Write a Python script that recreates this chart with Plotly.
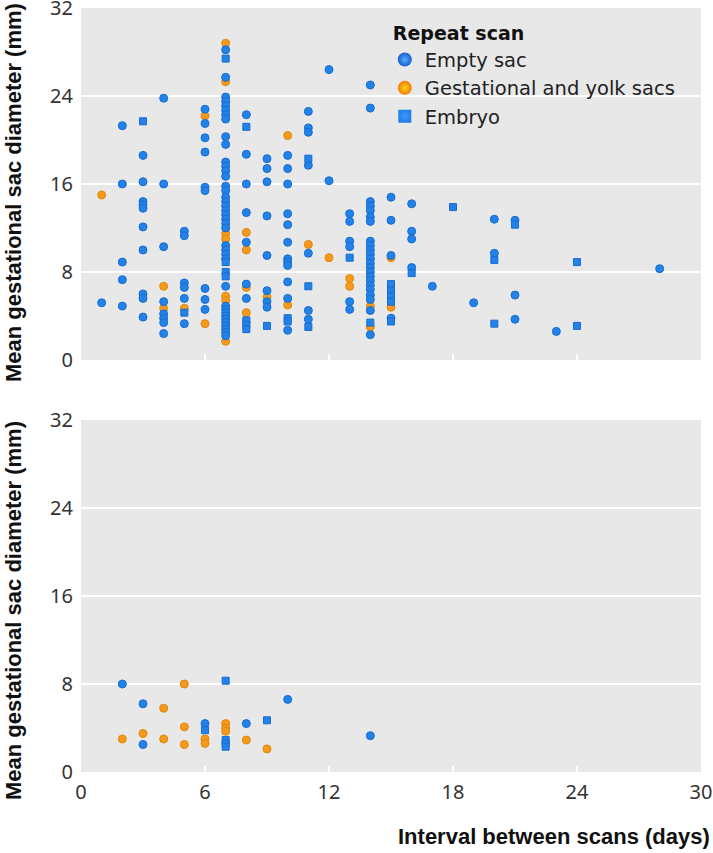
import plotly.graph_objects as go

# ---------------- data ----------------
# Top panel
top_empty_days = [1,
    2, 2, 2, 2, 2,
    3, 3, 3, 3, 3, 3, 3, 3, 3, 3,
    4, 4, 4, 4, 4, 4, 4, 4,
    5, 5, 5, 5, 5, 5,
    6, 6, 6, 6, 6, 6, 6, 6, 6,
    7, 7, 7, 7, 7, 7, 7, 7, 7, 7, 7, 7, 7, 7, 7, 7, 7, 7, 7, 7,
    7, 7, 7, 7, 7, 7, 7, 7, 7, 7, 7, 7, 7, 7, 7, 7, 7, 7, 7,
    8, 8, 8, 8, 8, 8, 8,
    9, 9, 9, 9, 9, 9, 9, 9,
    10, 10, 10, 10, 10, 10, 10, 10, 10, 10, 10, 10,
    11, 11, 11, 11, 11, 11, 11,
    12, 12,
    13, 13, 13, 13, 13, 13,
    14, 14, 14, 14, 14, 14, 14, 14, 14, 14, 14, 14, 14, 14, 14, 14, 14, 14, 14, 14, 14, 14, 14,
    15, 15, 15, 15,
    16, 16, 16, 16,
    17, 19, 20, 20, 21, 21, 21, 23, 28]
top_empty_mm = [5.2,
    21.3, 16.0, 8.9, 7.3, 4.9,
    18.6, 16.2, 14.4, 14.1, 13.8, 12.1, 10.0, 6.0, 5.6, 3.9,
    23.8, 16.0, 10.3, 5.3, 4.2, 3.8, 3.4, 2.4,
    11.7, 11.3, 7.0, 6.6, 5.6, 3.3,
    22.8, 21.5, 20.2, 18.9, 15.7, 15.4, 6.5, 5.5, 4.6,
    28.2, 25.7, 23.9, 23.5, 23.1, 22.7, 22.3, 21.9, 20.3, 19.6, 18.0, 17.6, 17.2, 16.7, 15.8, 15.4, 14.8, 14.4, 14.0, 13.6,
    13.2, 12.8, 12.4, 12.0, 10.4, 10.0, 9.6, 9.2, 6.7, 4.9, 4.6, 4.3, 4.0, 3.7, 3.4, 3.1, 2.8, 2.5, 2.2,
    22.3, 18.7, 16.0, 13.4, 10.7, 6.9, 5.6,
    18.3, 17.4, 16.2, 13.1, 9.5, 6.3, 5.3, 4.8,
    18.6, 17.4, 16.0, 13.3, 12.3, 10.7, 9.2, 8.9, 8.6, 7.1, 5.6, 2.7,
    22.6, 21.1, 20.7, 17.7, 9.7, 4.5, 3.7,
    26.4, 16.3,
    13.3, 12.6, 10.8, 10.3, 5.3, 4.6,
    25.0, 22.9, 14.4, 14.0, 13.6, 13.0, 12.6, 10.8, 10.4, 10.0, 9.6, 9.2, 8.8, 8.4, 8.0, 7.6, 7.2, 6.8, 6.4, 5.9, 5.5, 4.5, 2.3,
    14.8, 12.7, 9.5, 3.8,
    14.2, 11.7, 11.0, 8.4,
    6.7, 5.2, 12.8, 9.7, 12.7, 5.9, 3.7, 2.6, 8.3]

top_yolk_days = [1, 4, 4, 5, 6, 6, 7, 7, 7, 7, 7, 7, 7, 8, 8, 8, 8, 9, 10, 10, 11, 12, 13, 13, 14, 14, 15, 15]
top_yolk_mm = [15.0, 6.7, 4.7, 4.7, 22.2, 3.3, 28.8, 25.3, 11.5, 11.0, 5.8, 5.4, 1.7, 11.6, 10.0, 6.6, 4.3,
               5.7, 20.4, 5.0, 10.5, 9.3, 7.4, 6.7, 4.9, 3.0, 9.3, 4.8]

top_embryo_days = [3, 5, 7, 7, 7, 7, 8, 8, 8, 8, 9, 10, 10, 11, 11, 11, 13, 14,
                   15, 15, 15, 15, 15, 16, 18, 20, 20, 21, 24, 24]
top_embryo_mm = [21.7, 4.3, 27.4, 8.9, 8.0, 7.6, 21.2, 3.6, 3.2, 2.8, 3.1, 3.8, 3.5, 18.3, 6.7, 3.0, 9.3, 3.4,
                 6.9, 6.3, 5.8, 5.3, 3.5, 7.9, 13.9, 9.1, 3.3, 12.3, 8.9, 3.1]

# Bottom panel
bot_empty_days = [2, 3, 3, 6, 8, 10, 14]
bot_empty_mm = [8.0, 6.2, 2.5, 4.4, 4.4, 6.6, 3.3]

bot_yolk_days = [2, 3, 4, 4, 5, 5, 5, 6, 6, 7, 7, 7, 8, 9]
bot_yolk_mm = [3.0, 3.5, 5.8, 3.0, 8.0, 4.1, 2.5, 3.0, 2.6, 4.4, 4.0, 3.7, 2.9, 2.1]

bot_embryo_days = [6, 7, 7, 7, 7, 9]
bot_embryo_mm = [3.8, 8.3, 2.9, 2.6, 2.3, 4.7]

series_names = ["Empty sac", "Gestational and yolk sacs", "Embryo"]
x_ticks = [0, 6, 12, 18, 24, 30]
y_ticks = [0, 8, 16, 24, 32]
x_title = "Interval between scans (days)"
y_title = "Mean gestational sac diameter (mm)"
legend_title = "Repeat scan"

# ---------------- style ----------------
BLUE = "#2282ea"
BLUE_EDGE = "#176ccc"
ORANGE = "#f59a1c"
ORANGE_EDGE = "#e0860a"
BG = "#e8e8e8"
TICK_FONT = dict(family="Noto Sans", size=20, color="#333333")
TITLE_FONT = dict(family="Liberation Sans Narrow, Arial Narrow, sans-serif", size=22, color="#111111")
LEGEND_FONT = dict(family="DejaVu Sans", size=19.5, color="#222222")

fig = go.Figure()

def add_panel(xa, ya, ed, em, yd, ym, bd, bm):
    fig.add_trace(go.Scatter(x=yd, y=ym, mode="markers", xaxis=xa, yaxis=ya, showlegend=False,
                             marker=dict(symbol="circle", size=8, color=ORANGE,
                                         line=dict(width=1, color=ORANGE_EDGE))))
    fig.add_trace(go.Scatter(x=ed, y=em, mode="markers", xaxis=xa, yaxis=ya, showlegend=False,
                             marker=dict(symbol="circle", size=8, color=BLUE,
                                         line=dict(width=1, color=BLUE_EDGE))))
    fig.add_trace(go.Scatter(x=bd, y=bm, mode="markers", xaxis=xa, yaxis=ya, showlegend=False,
                             marker=dict(symbol="square", size=7, color=BLUE,
                                         line=dict(width=1, color=BLUE_EDGE))))

add_panel("x", "y", top_empty_days, top_empty_mm, top_yolk_days, top_yolk_mm,
          top_embryo_days, top_embryo_mm)
add_panel("x2", "y2", bot_empty_days, bot_empty_mm, bot_yolk_days, bot_yolk_mm,
          bot_embryo_days, bot_embryo_mm)

# legend-only entries (larger, shaded symbols)
fig.add_trace(go.Scatter(x=[None], y=[None], mode="markers", name=series_names[0],
                         marker=dict(symbol="circle", size=14, color="#1560d0",
                                     gradient=dict(type="radial", color="#5aaaff"))))
fig.add_trace(go.Scatter(x=[None], y=[None], mode="markers", name=series_names[1],
                         marker=dict(symbol="circle", size=14, color="#f07c00",
                                     gradient=dict(type="radial", color="#ffd21e"))))
fig.add_trace(go.Scatter(x=[None], y=[None], mode="markers", name=series_names[2],
                         marker=dict(symbol="square", size=13, color="#1e7fe8",
                                     gradient=dict(type="radial", color="#3f98ff"))))

xaxis_common = dict(range=[0, 30], tickvals=x_ticks, ticks="inside", ticklen=6, tickwidth=2,
                    tickcolor="white", showgrid=False, zeroline=False, showline=False,
                    tickfont=TICK_FONT, automargin=False, ticklabelstandoff=6,
                    ticklabeloverflow="allow")
yaxis_common = dict(range=[0, 32], tickvals=y_ticks, showgrid=True, gridcolor="white", gridwidth=2,
                    zeroline=False, showline=False, ticks="", tickfont=TICK_FONT,
                    ticklabelstandoff=7, automargin=False, ticklabeloverflow="allow")

fig.update_layout(
    width=713, height=853,
    margin=dict(l=81, r=12, t=8, b=81, autoexpand=False),
    paper_bgcolor="white", plot_bgcolor=BG,
    xaxis=dict(xaxis_common, anchor="y", showticklabels=False),
    yaxis=dict(yaxis_common, domain=[0.5393, 1.0], anchor="x"),
    xaxis2=dict(xaxis_common, anchor="y2", matches="x"),
    yaxis2=dict(yaxis_common, domain=[0.0, 0.4607], anchor="x2"),
    legend=dict(x=0.49, y=0.99, xanchor="left", yanchor="top", bgcolor="rgba(0,0,0,0)",
                font=LEGEND_FONT,
                title=dict(text="\u00a0<b>" + legend_title + "</b>",
                           font=dict(family="DejaVu Sans", size=19, color="#111111")),
                tracegroupgap=0, itemsizing="trace"),
    annotations=[
        dict(text="<b>" + x_title + "</b>", xref="paper", yref="paper", x=1.0177, y=-0.0838,
             xanchor="right", yanchor="middle", showarrow=False, font=TITLE_FONT),
        dict(text="<b>" + y_title + "</b>", xref="paper", yref="paper", x=-0.1097, y=0.759,
             xanchor="center", yanchor="middle", textangle=-90, showarrow=False, font=TITLE_FONT),
        dict(text="<b>" + y_title + "</b>", xref="paper", yref="paper", x=-0.1097, y=0.212,
             xanchor="center", yanchor="middle", textangle=-90, showarrow=False, font=TITLE_FONT),
    ],
)

fig.write_html("out.html", config={"displayModeBar": False},
               post_script="document.body.style.margin='0px';")
